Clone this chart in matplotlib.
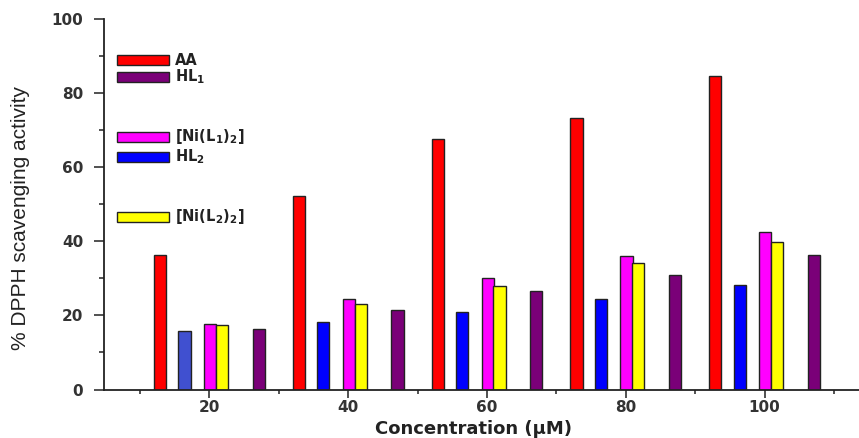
import matplotlib
matplotlib.use('Agg')
import matplotlib.pyplot as plt
import numpy as np
from matplotlib.patches import Rectangle
from matplotlib.ticker import MultipleLocator

# concentrations (uM) and % DPPH scavenging activity
conc = np.array([20, 40, 60, 80, 100])
aa = [36.2, 52.3, 67.7, 73.3, 84.7]
hl1 = [16.2, 21.4, 26.7, 30.8, 36.2]
ni_l1 = [17.8, 24.5, 30.1, 35.9, 42.6]
hl2 = [15.9, 18.2, 20.9, 24.4, 28.2]
ni_l2 = [17.3, 23.2, 27.9, 34.1, 39.8]

labels = ['AA', r'HL$_\mathbf{1}$', r'[Ni(L$_\mathbf{1}$)$_\mathbf{2}$]',
          r'HL$_\mathbf{2}$', r'[Ni(L$_\mathbf{2}$)$_\mathbf{2}$]']
colors = ['#ff0000', '#7a0078', '#ff00ff', '#0000ff', '#ffff00']

BAR_W = 1.75

fig = plt.figure(figsize=(8.59, 4.38), dpi=100)
ax = fig.add_axes([0.121, 0.1107, 0.879, 0.846])

ax.bar(conc - 7.1, aa, width=BAR_W, color=colors[0], edgecolor='#222222', linewidth=1.0)
hl2_colors = ['#4050d0'] + [colors[3]] * 4
ax.bar(conc - 3.6, hl2, width=BAR_W, color=hl2_colors, edgecolor='#222222', linewidth=1.0)
ax.bar(conc + 0.1, ni_l1, width=BAR_W, color=colors[2], edgecolor='#222222', linewidth=1.0)
ax.bar(conc + 1.8, ni_l2, width=BAR_W, color=colors[4], edgecolor='#222222', linewidth=1.0)
ax.bar(conc + 7.1, hl1, width=BAR_W, color=colors[1], edgecolor='#222222', linewidth=1.0)

ax.set_xlim(4.8, 113.6)
ax.set_ylim(0, 100)
ax.xaxis.set_major_locator(MultipleLocator(20))
ax.xaxis.set_minor_locator(MultipleLocator(10))
ax.yaxis.set_major_locator(MultipleLocator(20))
ax.yaxis.set_minor_locator(MultipleLocator(10))

for side in ['top', 'right']:
    ax.spines[side].set_visible(False)
for side in ['left', 'bottom']:
    ax.spines[side].set_linewidth(1.3)
    ax.spines[side].set_color('#222222')

ax.tick_params(axis='y', which='major', length=7, width=1.1, color='#222222', pad=8)
ax.tick_params(axis='y', which='minor', length=3.5, width=1.1, color='#222222')
ax.tick_params(axis='x', which='major', length=5.5, width=1.1, color='#222222', pad=2)
ax.tick_params(axis='x', which='minor', length=3, width=1.1, color='#222222')
for lab in ax.get_xticklabels() + ax.get_yticklabels():
    lab.set_fontweight('bold')
    lab.set_fontsize(11)
    lab.set_color('#333333')

ax.set_xlabel('Concentration (μM)', fontsize=13, fontweight='bold', color='#222222')
ax.xaxis.set_label_coords(0.49, -0.083)
ax.set_ylabel('% DPPH scavenging activity', fontsize=15,
              family=['Liberation Sans', 'DejaVu Sans'], color='#222222')
ax.yaxis.set_label_coords(-0.098, 0.463)

# hand placed legend entries with uneven spacing, as in the original
legend_y = [0.889, 0.844, 0.682, 0.628, 0.466]
for lab, col, y in zip(labels, colors, legend_y):
    ax.add_patch(Rectangle((0.0172, y - 0.0135), 0.069, 0.027, transform=ax.transAxes,
                           facecolor=col, edgecolor='#222222', linewidth=1.0,
                           clip_on=False))
    ax.text(0.094, y, lab, transform=ax.transAxes, fontsize=10.5, fontweight='bold',
            va='center', ha='left', color='#222222')

fig.savefig('out.png', dpi=100)
